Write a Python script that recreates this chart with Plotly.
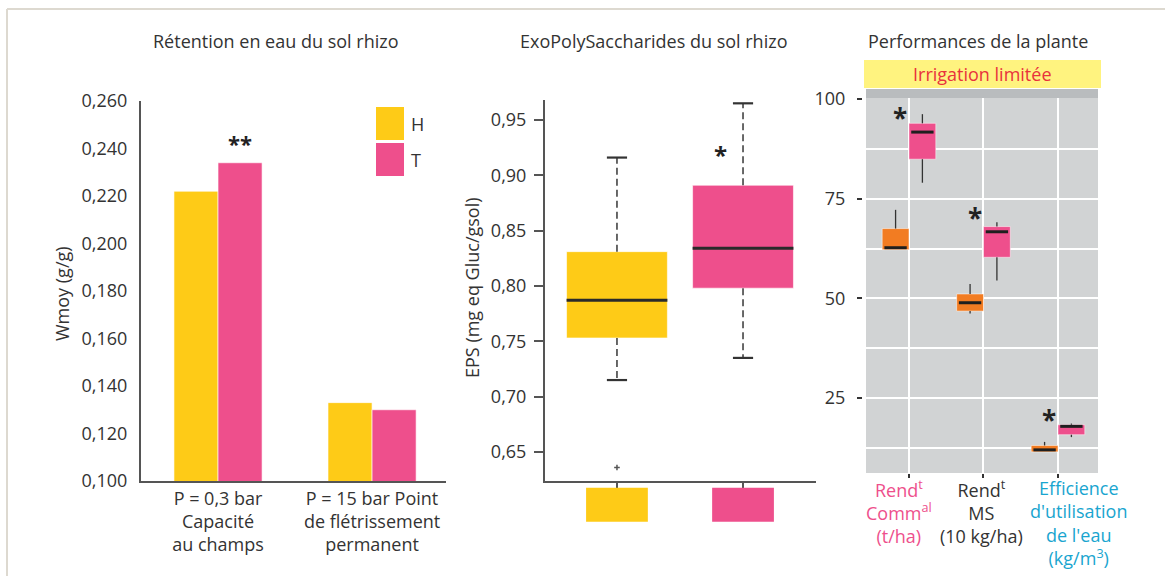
import plotly.graph_objects as go

# ---------------- data ----------------
# Left panel : water retention (bars)
ret_categories = ["P = 0,3 bar<br>Capacité<br>au champs",
                  "P = 15 bar Point<br>de flétrissement<br>permanent"]
ret_H = [0.222, 0.133]
ret_T = [0.234, 0.130]

# Middle panel : EPS box plots (H, T)
eps_groups = ["H", "T"]
eps_low = [0.715, 0.735]
eps_q1 = [0.753, 0.798]
eps_med = [0.787, 0.834]
eps_q3 = [0.831, 0.891]
eps_high = [0.916, 0.965]
eps_outlier_group = [0]
eps_outlier_value = [0.636]

# Right panel : plant performances (box plots, H = orange, T = pink)
perf_categories = ["Rend Comm", "Rend MS", "Efficience"]
perf_H_low = [62.2, 46.2, 11.5]
perf_H_q1 = [62.2, 46.8, 11.5]
perf_H_med = [62.7, 48.9, 12.0]
perf_H_q3 = [67.5, 51.1, 13.1]
perf_H_high = [72.2, 53.6, 14.0]
perf_T_low = [79.0, 54.5, 15.2]
perf_T_q1 = [84.9, 60.3, 15.8]
perf_T_med = [91.7, 66.7, 17.9]
perf_T_q3 = [93.9, 68.0, 18.3]
perf_T_high = [96.2, 69.1, 18.6]
perf_star_values = [96.2, 71.2, 20.5]

# ---------------- style ----------------
FONT = "Open Sans"
TXT = "#333333"
YELLOW = "#FECB17"
PINK = "#EE4F8C"
ORANGE = "#F27C22"
CYAN = "#19A5CF"
AXIS = "#555555"
W, H = 1165, 576

def px_x(v):
    return v / W

def px_y(v):
    return 1 - v / H

fig = go.Figure()

# ---------- left panel ----------
bw = 0.286
fig.add_trace(go.Bar(x=list(range(len(ret_categories))), y=ret_H, width=bw, offset=-bw,
                     marker=dict(color=YELLOW, line=dict(color="rgba(255,255,255,0.6)", width=1)),
                     xaxis="x", yaxis="y", showlegend=False, name="H"))
fig.add_trace(go.Bar(x=list(range(len(ret_categories))), y=ret_T, width=bw, offset=0,
                     marker=dict(color=PINK, line=dict(color="rgba(255,255,255,0.6)", width=1)),
                     xaxis="x", yaxis="y", showlegend=False, name="T"))

# ---------- middle panel ----------
ebw = 0.8
eps_x = list(range(len(eps_groups)))
fig.add_trace(go.Bar(x=eps_x, base=eps_q1, y=[b - a for a, b in zip(eps_q1, eps_q3)],
                     width=ebw, offset=-ebw / 2,
                     marker=dict(color=[YELLOW, PINK], line=dict(color="rgba(255,255,255,0.6)", width=1)),
                     xaxis="x2", yaxis="y2", showlegend=False))
# dashed whiskers
wx, wy = [], []
for i in eps_x:
    wx += [i, i, None, i, i, None]
    wy += [eps_q3[i], eps_high[i], None, eps_q1[i], eps_low[i], None]
fig.add_trace(go.Scatter(x=wx, y=wy, mode="lines", line=dict(color="#444444", width=1.6, dash="7px,4px"),
                         xaxis="x2", yaxis="y2", showlegend=False, hoverinfo="skip"))
# caps
cw = 0.08
cx, cy = [], []
for i in eps_x:
    cx += [i - cw, i + cw, None, i - cw, i + cw, None]
    cy += [eps_high[i], eps_high[i], None, eps_low[i], eps_low[i], None]
fig.add_trace(go.Scatter(x=cx, y=cy, mode="lines", line=dict(color="#333333", width=2.2),
                         xaxis="x2", yaxis="y2", showlegend=False, hoverinfo="skip"))
# medians
mx, my = [], []
for i in eps_x:
    mx += [i - ebw / 2, i + ebw / 2, None]
    my += [eps_med[i], eps_med[i], None]
fig.add_trace(go.Scatter(x=mx, y=my, mode="lines", line=dict(color="#2a2a2a", width=3),
                         xaxis="x2", yaxis="y2", showlegend=False, hoverinfo="skip"))
fig.add_trace(go.Scatter(x=eps_outlier_group, y=eps_outlier_value, mode="markers",
                         marker=dict(symbol="cross-thin", size=4, line=dict(color="#555555", width=1.5)),
                         xaxis="x2", yaxis="y2", showlegend=False, hoverinfo="skip"))

# ---------- right panel ----------
pbw = 0.36
perf_x = list(range(len(perf_categories)))
for q1, q3, color, off in [(perf_H_q1, perf_H_q3, ORANGE, -pbw), (perf_T_q1, perf_T_q3, PINK, 0)]:
    fig.add_trace(go.Bar(x=perf_x, base=q1, y=[b - a for a, b in zip(q1, q3)], width=pbw, offset=off,
                         marker=dict(color=color, line=dict(color="rgba(255,255,255,0.5)", width=1)),
                         xaxis="x3", yaxis="y3", showlegend=False))
for low, q1, med, q3, high, sgn in [(perf_H_low, perf_H_q1, perf_H_med, perf_H_q3, perf_H_high, -1),
                                    (perf_T_low, perf_T_q1, perf_T_med, perf_T_q3, perf_T_high, 1)]:
    wx, wy, mx, my = [], [], [], []
    for i in perf_x:
        c = i + sgn * pbw / 2
        wx += [c, c, None, c, c, None]
        wy += [q3[i], high[i], None, q1[i], low[i], None]
        mx += [c - pbw / 2 + 0.03, c + pbw / 2 - 0.03, None]
        my += [med[i], med[i], None]
    fig.add_trace(go.Scatter(x=wx, y=wy, mode="lines", line=dict(color="#333333", width=1.3),
                             xaxis="x3", yaxis="y3", showlegend=False, hoverinfo="skip"))
    fig.add_trace(go.Scatter(x=mx, y=my, mode="lines", line=dict(color="#1f1f1f", width=3),
                             xaxis="x3", yaxis="y3", showlegend=False, hoverinfo="skip"))

# ---------------- axes ----------------
tickfont = dict(family=FONT, size=18, color=TXT)
fig.update_layout(
    template="none",
    width=W, height=H, autosize=False,
    margin=dict(l=0, r=0, t=0, b=0, pad=0, autoexpand=False),
    paper_bgcolor="white", plot_bgcolor="white",
    barmode="overlay", separators=", ",
    font=dict(family=FONT, size=18, color=TXT),
    xaxis=dict(domain=[px_x(141), px_x(446)], range=[-0.5, 1.48], anchor="y", automargin=False,
               tickvals=list(range(len(ret_categories))), ticktext=ret_categories,
               showline=True, linecolor=AXIS, linewidth=2, ticks="", showgrid=False, zeroline=False,
               tickfont=tickfont),
    yaxis=dict(domain=[px_y(481), px_y(101)], range=[0.1, 0.26], anchor="x", automargin=False,
               dtick=0.02, tick0=0.1, tickformat=".3f",
               showline=True, linecolor=AXIS, linewidth=2, ticks="", ticklabelstandoff=8,
               showgrid=False, zeroline=False, tickfont=tickfont),
    xaxis2=dict(domain=[px_x(545), px_x(816)], range=[-0.571, 1.579], anchor="y2", automargin=False,
                tickvals=eps_x, showticklabels=False, ticks="outside", ticklen=7, tickwidth=2,
                tickcolor=AXIS, showline=True, linecolor=AXIS, linewidth=2, showgrid=False, zeroline=False),
    yaxis2=dict(domain=[px_y(481), px_y(100)], range=[0.6238, 0.968], anchor="x2", automargin=False,
                dtick=0.05, tick0=0.65, tickformat=".2f",
                showline=True, linecolor=AXIS, linewidth=2, ticks="outside", ticklen=9, tickwidth=2,
                tickcolor=AXIS, ticklabelstandoff=4, showgrid=False, zeroline=False, tickfont=tickfont),
    xaxis3=dict(domain=[px_x(866), px_x(1098)], range=[-0.577, 2.537], anchor="y3", automargin=False,
                tickvals=perf_x, showticklabels=False, ticks="outside", ticklen=4, tickwidth=1.5,
                tickcolor="#333333", showline=False, showgrid=True, gridcolor="white", gridwidth=1.5,
                zeroline=False),
    yaxis3=dict(domain=[px_y(473), px_y(98)], range=[6.2, 100.25], anchor="free", position=px_x(862),
                automargin=False,
                tickvals=[25, 50, 75, 100], ticks="outside", ticklen=5, tickwidth=1.5, tickcolor="#333333",
                ticklabelstandoff=8, showline=False, showgrid=True, gridcolor="white", gridwidth=1.5,
                minor=dict(dtick=12.5, tick0=0, showgrid=True, gridcolor="white", gridwidth=1.5, ticks=""),
                zeroline=False, tickfont=tickfont),
)

# ---------------- shapes ----------------
shapes = [
    # frame (top and left)
    dict(type="line", xref="paper", yref="paper", x0=px_x(7), x1=px_x(7), y0=0, y1=px_y(9),
         line=dict(color="#DDD9D0", width=2)),
    dict(type="line", xref="paper", yref="paper", x0=px_x(7), x1=1, y0=px_y(9), y1=px_y(9),
         line=dict(color="#DDD9D0", width=2)),
    # left legend swatches
    dict(type="rect", xref="paper", yref="paper", x0=px_x(376), x1=px_x(404), y0=px_y(140), y1=px_y(107),
         fillcolor=YELLOW, line=dict(width=0)),
    dict(type="rect", xref="paper", yref="paper", x0=px_x(376), x1=px_x(404), y0=px_y(176), y1=px_y(143),
         fillcolor=PINK, line=dict(width=0)),
    # right panel background
    dict(type="rect", xref="x3 domain", yref="y3 domain", x0=0, x1=1, y0=0, y1=1,
         fillcolor="#D1D3D4", line=dict(width=0), layer="below"),
    # strip band
    dict(type="rect", xref="x3 domain", yref="paper", x0=0, x1=1, y0=px_y(98), y1=px_y(89),
         fillcolor="#B9BCBE", line=dict(width=0), layer="below"),
    # yellow header
    dict(type="rect", xref="paper", yref="paper", x0=px_x(864), x1=px_x(1101), y0=px_y(88), y1=px_y(60),
         fillcolor="#FFF37F", line=dict(width=0), layer="below"),
]
# middle panel category swatches below the axis
for i, col in zip(eps_x, [YELLOW, PINK]):
    shapes.append(dict(type="rect", xref="x2", yref="y2 domain", x0=i - 0.245, x1=i + 0.245,
                       y0=-0.107, y1=-0.018, fillcolor=col, line=dict(width=0)))
fig.update_layout(shapes=shapes)

# ---------------- annotations ----------------
ann = []
titles = [("Rétention en eau du sol rhizo", 276), ("ExoPolySaccharides du sol rhizo", 653),
          ("Performances de la plante", 978)]
for t, x in titles:
    ann.append(dict(text=t, x=px_x(x), y=px_y(41), xref="paper", yref="paper", showarrow=False,
                    xanchor="center", yanchor="middle", font=dict(size=18, color=TXT)))
ann.append(dict(text="Irrigation limitée", x=px_x(982), y=px_y(74), xref="paper", yref="paper",
                showarrow=False, xanchor="center", yanchor="middle", font=dict(size=18, color="#E8323C")))
ann.append(dict(text="Wmoy (g/g)", x=px_x(62), y=px_y(294), xref="paper", yref="paper", textangle=-90,
                showarrow=False, xanchor="center", yanchor="middle", font=dict(size=18, color=TXT)))
ann.append(dict(text="EPS (mg eq Gluc/gsol)", x=px_x(472), y=px_y(288), xref="paper", yref="paper",
                textangle=-90, showarrow=False, xanchor="center", yanchor="middle",
                font=dict(size=18, color=TXT)))
# legend labels
for t, y in [("H", 124), ("T", 160)]:
    ann.append(dict(text=t, x=px_x(409), y=px_y(y), xref="paper", yref="paper", showarrow=False,
                    xanchor="left", yanchor="middle", font=dict(size=18, color=TXT)))
# significance stars
ann.append(dict(text="<b>**</b>", x=bw / 2, y=0.243, xref="x", yref="y", showarrow=False,
                xanchor="center", yanchor="middle", yshift=-2, font=dict(size=22, color="#222222")))
ann.append(dict(text="<b>*</b>", x=0.82, y=0.920, xref="x2", yref="y2", showarrow=False,
                xanchor="center", yanchor="middle", yshift=-1, font=dict(size=24, color="#222222")))
for i, v in zip(perf_x, perf_star_values):
    ann.append(dict(text="<b>*</b>", x=i - 0.12, y=v, xref="x3", yref="y3", showarrow=False,
                    xanchor="center", yanchor="middle", yshift=-4, font=dict(size=26, color="#222222")))
# right panel category labels
perf_labels = ["Rend<sup>t</sup><br>Comm<sup>al</sup><br>(t/ha)",
               "Rend<sup>t</sup><br>MS<br>(10 kg/ha)",
               "Efficience<br>d'utilisation<br>de l'eau<br>(kg/m<sup>3</sup>)"]
label_colors = [PINK, TXT, CYAN]
label_shift = [-10, -2, 21]
for i, (t, c, s) in zip(perf_x, zip(perf_labels, label_colors, label_shift)):
    ann.append(dict(text=t, x=i, y=0, xref="x3", yref="y3 domain", showarrow=False,
                    xanchor="center", yanchor="top", xshift=s, yshift=-1,
                    font=dict(size=18, color=c)))
fig.update_layout(annotations=ann)

fig.write_html("out.html", post_script="document.body.style.margin='0';",
               config={"displayModeBar": False})
